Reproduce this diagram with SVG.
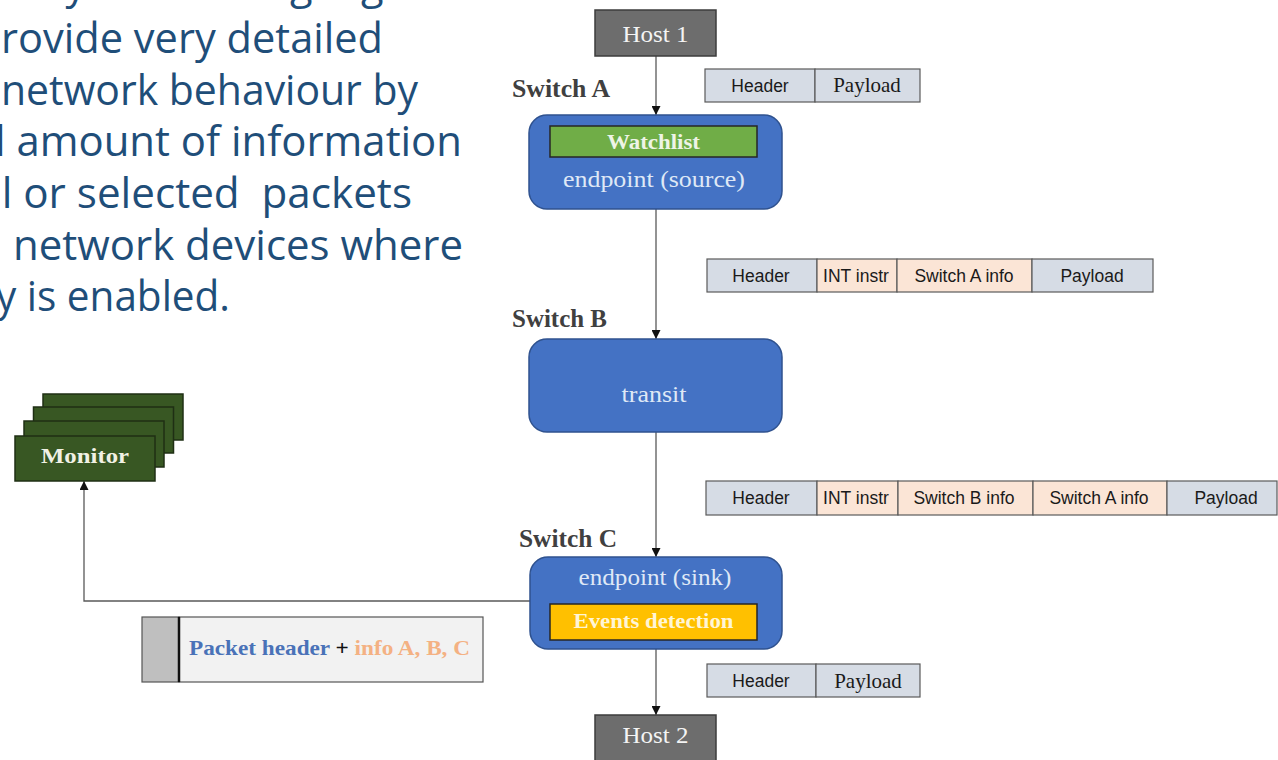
<svg xmlns="http://www.w3.org/2000/svg" width="1278" height="760" viewBox="0 0 1278 760">
<defs>
<style>
.para{font-family:"Open Sans","Noto Sans",sans-serif;font-size:42px;fill:#1F4E79;white-space:pre}
.serif{font-family:"Liberation Serif",serif}
.sans{font-family:"Liberation Sans",Arial,sans-serif;font-size:17.5px;fill:#1a1a1a;text-anchor:middle}
.lbl{font-family:"Liberation Serif",serif;font-weight:bold;font-size:25px;fill:#404040}
.host{fill:#6d6d6d;stroke:#3c3c3c;stroke-width:1.5}
.hostt{font-family:"Liberation Serif",serif;font-size:24px;fill:#f4f4f4;text-anchor:middle}
.sw{fill:#4472C4;stroke:#2F528F;stroke-width:1.5}
.swt{font-family:"Liberation Serif",serif;font-size:24px;fill:#dfe8f6;text-anchor:middle}
.bar{stroke:#262626;stroke-width:1.5}
.bart{font-family:"Liberation Serif",serif;font-weight:bold;font-size:20px;text-anchor:middle}
.cb{fill:#d6dce5;stroke:#5a5a5a;stroke-width:1.2}
.cp{fill:#fbe5d6;stroke:#5a5a5a;stroke-width:1.2}
.mon{fill:#385723;stroke:#1f2f14;stroke-width:1.5}
.conn{stroke:#595959;stroke-width:1.3;fill:none}
</style>
<marker id="arr" viewBox="0 0 10 10" refX="10" refY="5" markerWidth="9" markerHeight="9" markerUnits="userSpaceOnUse" orient="auto">
<path d="M0,0 L10,5 L0,10 z" fill="#111"/>
</marker>
</defs>
<rect width="1278" height="760" fill="#ffffff"/>

<g id="paragraph">
<text class="para" x="40" y="-1" textLength="367" lengthAdjust="spacingAndGlyphs">by the P4 language</text>
<text class="para" x="1" y="53" textLength="382" lengthAdjust="spacingAndGlyphs">rovide very detailed</text>
<text class="para" x="1" y="104.5" textLength="417" lengthAdjust="spacingAndGlyphs">network behaviour by</text>
<text class="para" x="-5" y="156" textLength="467" lengthAdjust="spacingAndGlyphs">l amount of information</text>
<text class="para" x="-9" y="207.5" textLength="421" lengthAdjust="spacingAndGlyphs">ll or selected  packets</text>
<text class="para" x="13" y="259.5" textLength="450" lengthAdjust="spacingAndGlyphs">network devices where</text>
<text class="para" x="-4" y="311" textLength="234" lengthAdjust="spacingAndGlyphs">y is enabled.</text>
</g>

<g id="connectors">
<line class="conn" x1="656" y1="56" x2="656" y2="115" marker-end="url(#arr)"/>
<line class="conn" x1="656" y1="209" x2="656" y2="339" marker-end="url(#arr)"/>
<line class="conn" x1="656" y1="432" x2="656" y2="557" marker-end="url(#arr)"/>
<line class="conn" x1="656" y1="649" x2="656" y2="715" marker-end="url(#arr)"/>
<polyline class="conn" points="530,601 84,601 84,481" marker-end="url(#arr)"/>
</g>

<g id="host1">
<rect class="host" x="595" y="10" width="121" height="46"/>
<text class="hostt" x="655.5" y="42" textLength="66" lengthAdjust="spacingAndGlyphs">Host 1</text>
</g>

<g id="packet1">
<rect class="cb" x="705" y="69" width="110" height="33"/>
<rect class="cb" x="815" y="69" width="105" height="33"/>
<text class="sans" x="760" y="91.5">Header</text>
<text class="serif" x="867" y="92" font-size="21" fill="#1a1a1a" text-anchor="middle">Payload</text>
</g>

<g id="switchA">
<text class="lbl" x="512" y="97" textLength="98" lengthAdjust="spacingAndGlyphs">Switch A</text>
<rect class="sw" x="529" y="115" width="253" height="94" rx="18"/>
<rect class="bar" x="550" y="126" width="207" height="31" fill="#70AD47"/>
<text class="bart" x="653.5" y="149" fill="#eef4e6" textLength="93" lengthAdjust="spacingAndGlyphs">Watchlist</text>
<text class="swt" x="654" y="187" textLength="182" lengthAdjust="spacingAndGlyphs">endpoint (source)</text>
</g>

<g id="packet2">
<rect class="cb" x="707" y="259" width="110" height="33"/>
<rect class="cp" x="817" y="259" width="80" height="33"/>
<rect class="cp" x="897" y="259" width="135" height="33"/>
<rect class="cb" x="1032" y="259" width="121" height="33"/>
<text class="sans" x="761" y="281.5">Header</text>
<text class="sans" x="856" y="281.5">INT instr</text>
<text class="sans" x="964" y="281.5">Switch A info</text>
<text class="sans" x="1092" y="281.5">Payload</text>
</g>

<g id="switchB">
<text class="lbl" x="512" y="327" textLength="95" lengthAdjust="spacingAndGlyphs">Switch B</text>
<rect class="sw" x="529" y="339" width="253" height="93" rx="18"/>
<text class="swt" x="654" y="402" textLength="65" lengthAdjust="spacingAndGlyphs">transit</text>
</g>

<g id="packet3">
<rect class="cb" x="706" y="481" width="111" height="34"/>
<rect class="cp" x="817" y="481" width="81" height="34"/>
<rect class="cp" x="898" y="481" width="135" height="34"/>
<rect class="cp" x="1033" y="481" width="134" height="34"/>
<rect class="cb" x="1167" y="481" width="110" height="34"/>
<text class="sans" x="761" y="504">Header</text>
<text class="sans" x="856" y="504">INT instr</text>
<text class="sans" x="964" y="504">Switch B info</text>
<text class="sans" x="1099" y="504">Switch A info</text>
<text class="sans" x="1226" y="504">Payload</text>
</g>

<g id="switchC">
<text class="lbl" x="519" y="547" textLength="98" lengthAdjust="spacingAndGlyphs">Switch C</text>
<rect class="sw" x="530" y="557" width="252" height="92" rx="18"/>
<text class="swt" x="655" y="585" textLength="153" lengthAdjust="spacingAndGlyphs">endpoint (sink)</text>
<rect class="bar" x="550" y="604" width="207" height="36" fill="#FFC000"/>
<text class="bart" x="653.5" y="628" fill="#fff5d6" textLength="160" lengthAdjust="spacingAndGlyphs">Events detection</text>
</g>

<g id="packet4">
<rect class="cb" x="707" y="664" width="109" height="33"/>
<rect class="cb" x="816" y="664" width="104" height="33"/>
<text class="sans" x="761" y="687">Header</text>
<text class="serif" x="868" y="688" font-size="21" fill="#1a1a1a" text-anchor="middle">Payload</text>
</g>

<g id="host2">
<rect class="host" x="595" y="715" width="121" height="52"/>
<text class="hostt" x="655.5" y="743" textLength="66" lengthAdjust="spacingAndGlyphs">Host 2</text>
</g>

<g id="monitor">
<rect class="mon" x="43" y="394" width="140" height="46"/>
<rect class="mon" x="33.5" y="407" width="140" height="46"/>
<rect class="mon" x="24" y="421" width="140" height="46"/>
<rect class="mon" x="15" y="436" width="140" height="45"/>
<text class="serif" x="85" y="463" font-size="22" font-weight="bold" fill="#f1f1e4" text-anchor="middle" textLength="88" lengthAdjust="spacingAndGlyphs">Monitor</text>
</g>

<g id="report">
<rect x="142" y="617" width="37" height="65" fill="#bfbfbf" stroke="#555" stroke-width="1.2"/>
<rect x="179" y="617" width="304" height="65" fill="#f2f2f2" stroke="#555" stroke-width="1.2"/>
<line x1="179" y1="617" x2="179" y2="682" stroke="#111" stroke-width="2.5"/>
<text class="serif" x="189" y="655" font-size="21" font-weight="bold" textLength="281" lengthAdjust="spacingAndGlyphs"><tspan fill="#4a72b8">Packet header</tspan><tspan fill="#111"> + </tspan><tspan fill="#f4b183">info A, B, C</tspan></text>
</g>
</svg>
